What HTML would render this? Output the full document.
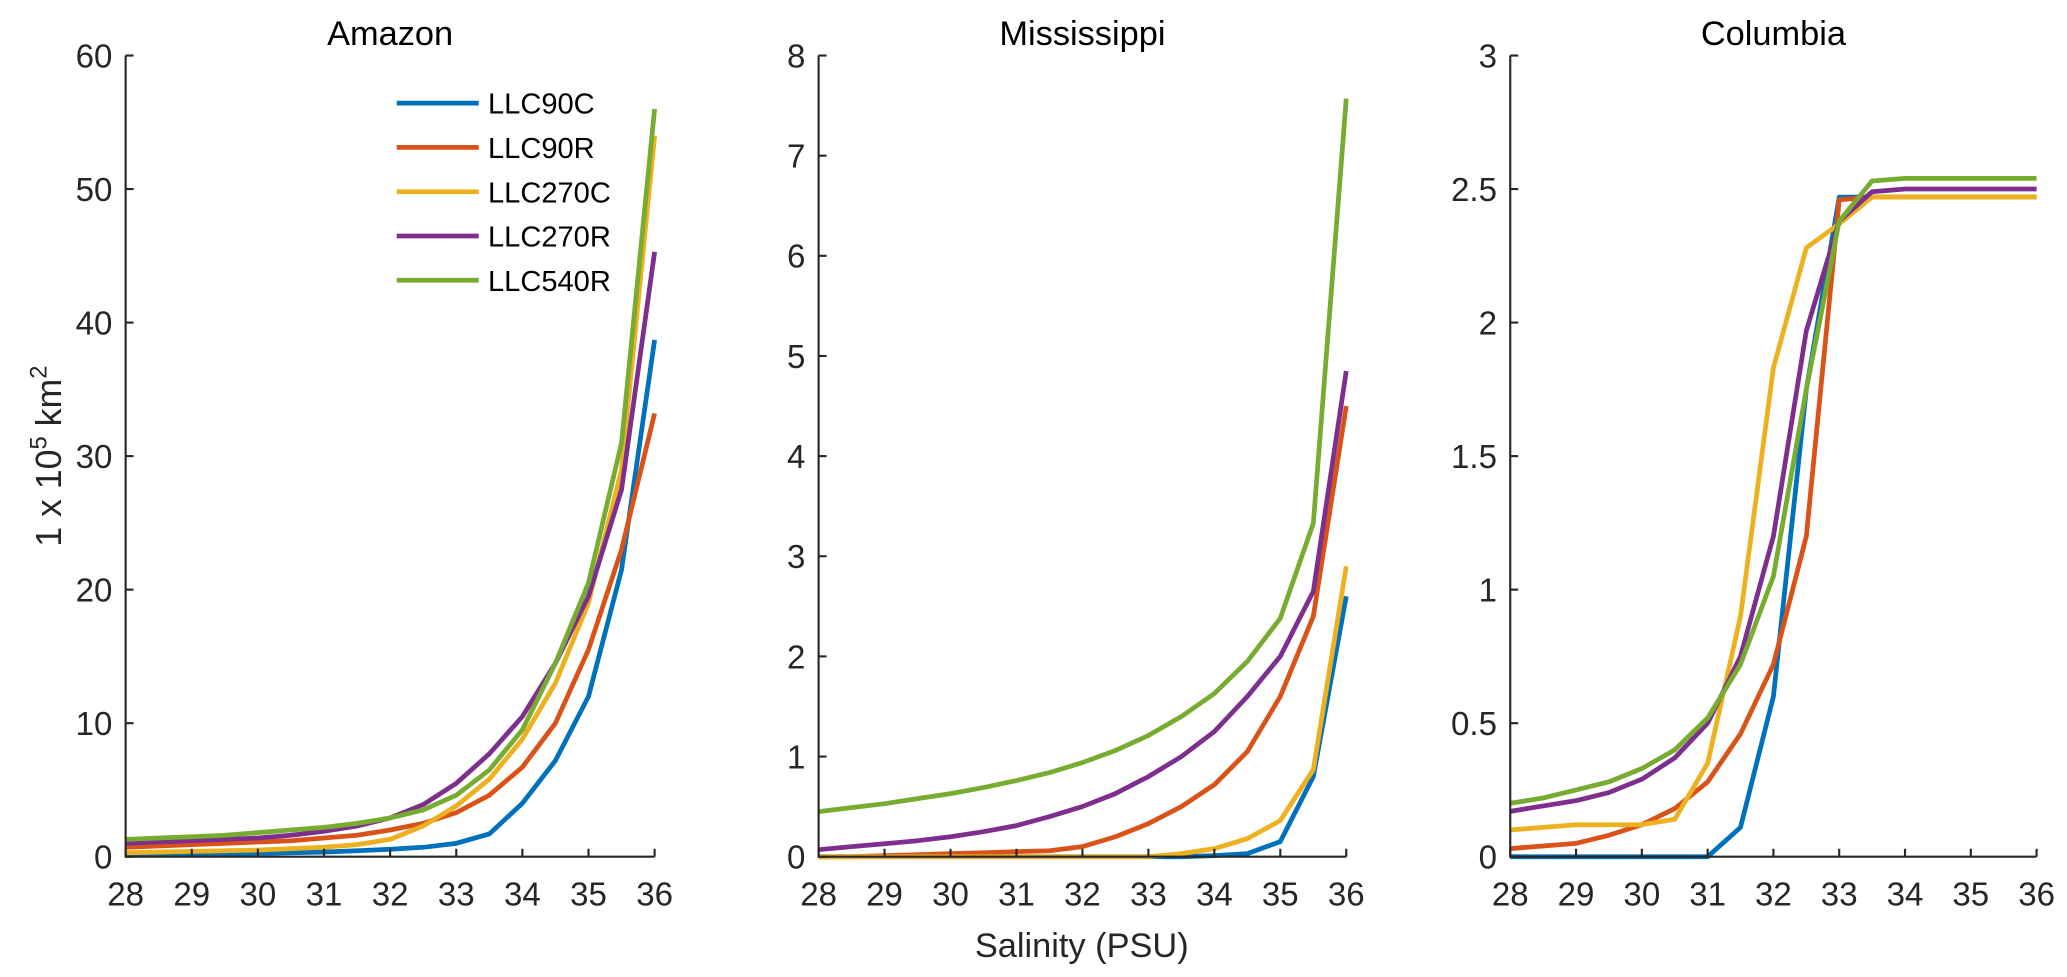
<!DOCTYPE html>
<html><head><meta charset="utf-8"><style>
html,body{margin:0;padding:0;background:#fff;overflow:hidden;}
svg{display:block;font-family:"Liberation Sans",Arial,sans-serif;}
</style></head><body>
<svg id="chart" width="2067" height="977" viewBox="0 0 1563 739" preserveAspectRatio="none" xmlns="http://www.w3.org/2000/svg"></svg>
<script>
const salinity=[28,28.5,29,29.5,30,30.5,31,31.5,32,32.5,33,33.5,34,34.5,35,35.5,36];
const seriesNames=["LLC90C","LLC90R","LLC270C","LLC270R","LLC540R"];
const seriesColors=["#0072BD","#D95319","#EDB120","#7E2F8E","#77AC30"];
const panelTitles=["Amazon","Mississippi","Columbia"];
const xTicks=[28,29,30,31,32,33,34,35,36];
const amazonTicks=[0,10,20,30,40,50,60];
const mississippiTicks=[0,1,2,3,4,5,6,7,8];
const columbiaTicks=[0,0.5,1,1.5,2,2.5,3];
const amazon90C=[0.1,0.15,0.2,0.2,0.25,0.3,0.35,0.45,0.55,0.7,1.0,1.7,4,7.2,12,21.5,38.7];
const amazon90R=[0.7,0.8,0.9,1.0,1.1,1.2,1.4,1.6,2.0,2.5,3.3,4.6,6.7,10,15.5,23,33.2];
const amazon270C=[0.3,0.35,0.4,0.45,0.5,0.6,0.7,0.9,1.3,2.3,3.8,5.8,8.8,13,19,29,54];
const amazon270R=[1.0,1.1,1.2,1.3,1.4,1.6,1.9,2.3,2.9,3.9,5.5,7.7,10.5,14.5,19.5,27.5,45.3];
const amazon540R=[1.3,1.4,1.5,1.6,1.8,2.0,2.2,2.5,2.9,3.5,4.6,6.5,9.5,14.5,20.5,31,56];
const miss90C=[0,0,0,0,0,0,0,0,0,0,0,0,0.01,0.03,0.15,0.8,2.6];
const miss90R=[0,0,0.01,0.02,0.03,0.04,0.05,0.06,0.1,0.2,0.33,0.5,0.72,1.05,1.6,2.4,4.5];
const miss270C=[0,0,0,0,0,0,0,0,0,0,0,0.03,0.08,0.18,0.36,0.87,2.9];
const miss270R=[0.07,0.1,0.13,0.16,0.2,0.25,0.31,0.4,0.5,0.63,0.8,1.0,1.25,1.6,2.0,2.65,4.85];
const miss540R=[0.45,0.49,0.53,0.58,0.63,0.69,0.76,0.84,0.94,1.06,1.21,1.4,1.63,1.95,2.38,3.33,7.57];
const col90C=[0,0,0,0,0,0,0,0.11,0.6,1.75,2.47,2.47,2.47,2.47,2.47,2.47,2.47];
const col90R=[0.03,0.04,0.05,0.08,0.12,0.18,0.28,0.46,0.72,1.2,2.46,2.47,2.47,2.47,2.47,2.47,2.47];
const col270C=[0.1,0.11,0.12,0.12,0.12,0.14,0.35,0.9,1.83,2.28,2.37,2.47,2.47,2.47,2.47,2.47,2.47];
const col270R=[0.17,0.19,0.21,0.24,0.29,0.37,0.5,0.75,1.2,1.97,2.38,2.49,2.5,2.5,2.5,2.5,2.5];
const col540R=[0.2,0.22,0.25,0.28,0.33,0.4,0.52,0.72,1.05,1.75,2.38,2.53,2.54,2.54,2.54,2.54,2.54];

const NS="http://www.w3.org/2000/svg";
const svg=document.getElementById("chart");
function mk(tag,attrs,parent){const e=document.createElementNS(NS,tag);for(const k in attrs)e.setAttribute(k,attrs[k]);(parent||svg).appendChild(e);return e;}

const panels=[
 {x0:95,x1:495,ymax:60,ticks:amazonTicks,data:[amazon90C,amazon90R,amazon270C,amazon270R,amazon540R],key:"amazon"},
 {x0:619,x1:1018,ymax:8,ticks:mississippiTicks,data:[miss90C,miss90R,miss270C,miss270R,miss540R],key:"mississippi"},
 {x0:1142,x1:1540,ymax:3,ticks:columbiaTicks,data:[col90C,col90R,col270C,col270R,col540R],key:"columbia"}
];
const yTop=42,yBot=648;
panels.forEach((p,pi)=>{
 const g=mk("g",{});
 
 
 const xs=v=>p.x0+(v-28)/8*(p.x1-p.x0);
 const ys=v=>yBot-v/p.ymax*(yBot-yTop);
 const t=mk("text",{x:(p.x0+p.x1)/2,y:34,"text-anchor":"middle","font-size":"26",fill:"#000"},g);
 t.textContent=panelTitles[pi];
 
 
 p.data.forEach((arr,si)=>{
  const pts=arr.map((v,i)=>xs(salinity[i]).toFixed(1)+","+ys(v).toFixed(1)).join(" ");
  const l=mk("polyline",{points:pts,fill:"none",stroke:seriesColors[si],"stroke-width":"3.6","stroke-linejoin":"round"},g);
  
  
 });
 const ax=mk("path",{d:`M${p.x0},${yTop}V${yBot}H${p.x1}`,stroke:"#262626","stroke-width":"1.6",fill:"none"},g);
 
 
 xTicks.forEach(v=>{
  mk("line",{x1:xs(v),x2:xs(v),y1:yBot,y2:yBot-6,stroke:"#262626","stroke-width":"1.6"},g);
  const tl=mk("text",{x:xs(v),y:685,"text-anchor":"middle","font-size":"25",fill:"#262626"},g);
  tl.textContent=v;
  
  
 });
 p.ticks.forEach(v=>{
  mk("line",{x1:p.x0,x2:p.x0+6,y1:ys(v),y2:ys(v),stroke:"#262626","stroke-width":"1.6"},g);
  const tl=mk("text",{x:p.x0-10,y:ys(v)+9,"text-anchor":"end","font-size":"25",fill:"#262626"},g);
  tl.textContent=v;
  
  
 });
});
const yl=mk("text",{x:0,y:0,transform:"translate(46,345) rotate(-90)","text-anchor":"middle","font-size":"27",fill:"#262626"});
yl.innerHTML='1 x 10<tspan dy="-11" font-size="18">5</tspan><tspan dy="11"> km</tspan><tspan dy="-11" font-size="18">2</tspan>';


const xl=mk("text",{x:818,y:724,"text-anchor":"middle","font-size":"26",fill:"#262626"});
xl.textContent="Salinity (PSU)";


const lg=mk("g",{});


seriesNames.forEach((n,i)=>{
 const y=78+i*33.5;
 const e=mk("g",{},lg);
 
 
 mk("line",{x1:300,x2:362,y1:y,y2:y,stroke:seriesColors[i],"stroke-width":"3.6"},e);
 const t=mk("text",{x:369,y:y+8,"font-size":"22",fill:"#000"},e);
 t.textContent=n;
});
</script>
</body></html>
